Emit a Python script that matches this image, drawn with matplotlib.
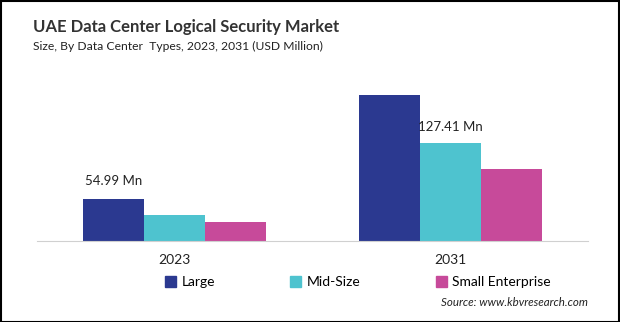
import matplotlib
matplotlib.use("Agg")
import matplotlib.pyplot as plt
from matplotlib.patches import Patch, Rectangle
import numpy as np

plt.rcParams['font.family'] = ['Lato', 'DejaVu Sans']

years = ["2023", "2031"]
segments = ["Large", "Mid-Size", "Small Enterprise"]
values = {
    "Large": [54.99, 189.7],
    "Mid-Size": [33.8, 127.41],
    "Small Enterprise": [24.7, 93.5],
}
colors = {"Large": "#2B3990", "Mid-Size": "#4EC3CF", "Small Enterprise": "#C74A9A"}
labels = [("Large", 0, "54.99 Mn"), ("Mid-Size", 1, "127.41 Mn")]

W, H = 620, 322
fig = plt.figure(figsize=(W / 100, H / 100), dpi=100)
ax = fig.add_axes([37 / W, 1 - 241 / H, (588 - 37) / W, (241 - 60) / H])

x = np.arange(len(years))
bw = 0.222
for i, seg in enumerate(segments):
    ax.bar(x + (i - 1) * bw, values[seg], width=bw, color=colors[seg], zorder=2)

for seg, yi, txt in labels:
    i = segments.index(seg)
    v = values[seg][yi]
    off = 8 if yi == 0 else 7
    ax.annotate(txt, (x[yi] + (i - 1) * bw, v), xytext=(0, off), textcoords="offset points",
                ha="center", va="bottom", fontsize=9.5, color="#222222")

ax.set_xlim(-0.5, 1.5)
ax.set_ylim(0, 234.6)
ax.set_xticks(x)
ax.set_xticklabels(years, fontsize=10, color="#222222")
ax.tick_params(axis="x", length=0, pad=9)
ax.set_yticks([])
for s in ["top", "right", "left"]:
    ax.spines[s].set_visible(False)
ax.spines["bottom"].set_color("#d0d0d0")

fig.text(33 / W, 1 - 27 / H, "UAE Data Center Logical Security Market", fontsize=12,
         fontweight="bold", color="#333333", va="center", ha="left")
fig.text(33 / W, 1 - 46 / H, "Size, By Data Center  Types, 2023, 2031 (USD Million)", fontsize=8.7,
         color="#222222", va="center", ha="left")

handles = [Patch(color=colors[s], label=s) for s in segments]
fig.legend(handles=handles, loc="center", bbox_to_anchor=(358 / W, 1 - 282 / H), ncol=3,
           frameon=False, fontsize=10, handlelength=0.8, handleheight=0.8, handletextpad=0.4,
           columnspacing=5.4)

fig.text(588 / W, 1 - 303 / H, "Source: www.kbvresearch.com", fontsize=8.3, style="italic",
         color="#222222", ha="right", va="center")

fig.patches.append(Rectangle((0.5 / W, 0.5 / H), 1 - 1.5 / W, 1 - 1.5 / H, transform=fig.transFigure,
                             fill=False, edgecolor="black", linewidth=1.5))

fig.savefig("out.png", dpi=100, facecolor="white")
